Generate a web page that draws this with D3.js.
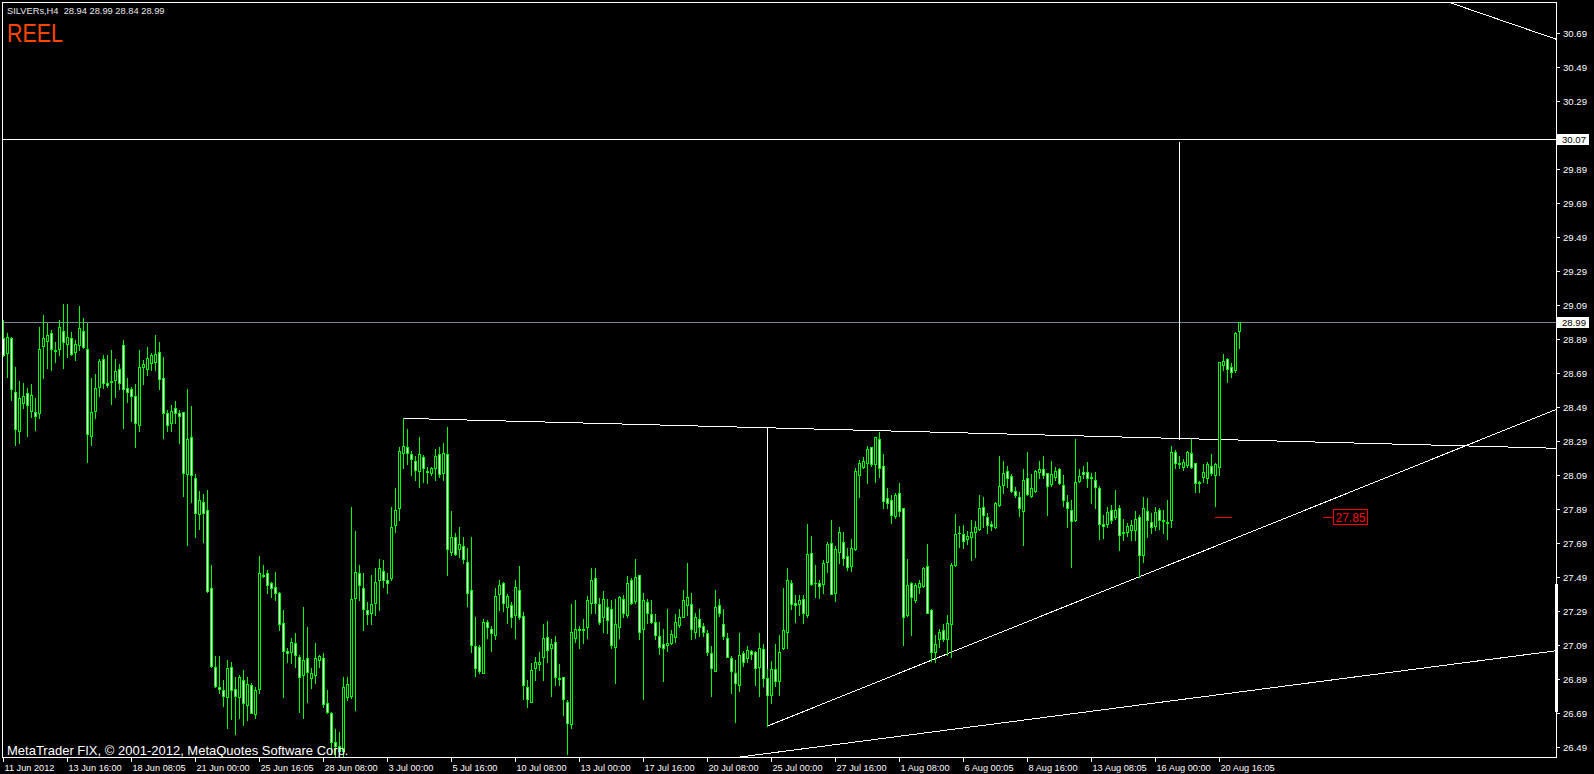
<!DOCTYPE html>
<html><head><meta charset="utf-8">
<script src="https://cdn.jsdelivr.net/npm/d3@7"></script>
<style>html,body{margin:0;padding:0;background:#000;overflow:hidden}</style>
</head><body>
<svg id="c" width="1594" height="774"></svg>
<script>
// ---------- DATA (SILVERs, H4) ----------
const opens = [
28.896,28.811,28.896,28.582,28.353,28.513,28.572,28.47,28.46,28.455,
28.853,28.882,28.925,28.827,28.831,28.941,28.86,28.896,28.813,28.856,
28.941,28.831,28.323,28.47,28.611,28.772,28.631,28.647,28.651,28.713,
28.855,28.602,28.596,28.556,28.386,28.729,28.713,28.753,28.758,28.813,
28.66,28.455,28.396,28.484,28.455,28.46,28.096,28.313,28.072,27.86,
27.933,27.886,27.425,26.965,26.847,26.827,26.784,26.965,26.831,26.784,
26.886,26.739,26.857,26.686,26.831,27.503,27.513,27.455,27.431,27.396,
27.223,27.058,27.053,27.102,27.023,26.915,27.013,26.896,26.915,27.004,
27.013,26.753,26.694,26.52,26.50,26.47,26.788,26.792,27.366,27.513,
27.425,27.298,27.278,27.341,27.474,27.529,27.474,27.484,27.798,27.896,
28.223,28.255,28.213,28.174,28.117,28.20,28.117,28.102,28.131,28.215,
28.102,28.213,27.641,27.729,27.655,27.674,27.582,27.415,27.086,27.082,
26.929,27.229,27.184,27.151,27.392,27.459,27.313,27.327,27.268,27.415,
27.262,26.843,26.758,26.955,26.98,27.023,27.141,27.072,27.111,26.90,
26.902,26.758,26.627,27.131,27.184,27.184,27.196,27.341,27.484,27.333,
27.255,27.313,27.302,27.082,27.20,27.36,27.268,27.474,27.353,27.504,
27.184,27.347,27.274,27.229,27.145,27.098,27.092,27.102,27.141,27.209,
27.259,27.327,27.333,27.17,27.243,27.204,27.16,27.043,26.941,27.327,
27.215,27.131,27.013,26.929,26.857,27.043,27.013,27.057,27.053,26.965,
27.07,26.90,26.80,26.95,26.88,27.072,27.17,27.459,27.341,27.333,
27.36,27.268,27.631,27.458,27.459,27.451,27.578,27.694,27.40,27.641,
27.70,27.615,27.558,27.655,28.092,28.141,28.16,28.255,28.157,28.302,
28.145,27.955,27.945,27.851,27.984,27.896,27.268,27.459,27.357,27.431,
27.439,27.557,27.298,27.05,27.125,27.18,27.125,27.215,27.562,27.753,
27.745,27.713,27.725,27.758,27.772,27.902,27.843,27.804,27.784,27.915,
28.033,28.117,28.086,28.00,27.96,27.882,28.072,27.968,28.00,28.111,
28.125,28.102,28.039,28.082,28.125,28.033,27.931,27.886,27.827,28.058,
28.111,28.111,28.082,28.062,28.013,27.803,27.803,27.886,27.843,27.896,
27.758,27.758,27.768,27.768,27.843,27.62,27.882,27.817,27.792,27.886,
27.827,27.817,27.827,28.229,28.16,28.141,28.15,28.223,28.16,28.052,
28.082,28.072,28.145,28.092,28.141,28.739,28.772,28.729,28.709,28.94];
const highs = [
29.004,28.925,28.905,28.725,28.647,28.631,28.602,28.627,28.543,28.964,
29.033,28.984,28.945,28.876,29.004,29.098,29.098,28.935,28.886,29.086,
29.013,28.984,28.66,28.686,28.772,28.798,28.798,28.827,28.772,28.745,
28.886,28.66,28.611,28.627,28.827,28.768,28.843,28.807,28.915,28.876,
28.784,28.474,28.504,28.527,28.474,28.464,28.598,28.498,28.098,28.0,
27.98,28.004,27.562,27.027,27.027,26.886,27.004,26.994,26.906,26.915,
26.945,26.906,26.866,26.843,27.615,27.562,27.533,27.464,27.523,27.406,
27.298,27.072,27.131,27.16,27.033,27.317,27.20,26.955,27.106,27.033,
27.043,26.827,26.70,26.60,26.58,26.906,26.906,27.906,27.762,27.562,
27.513,27.347,27.504,27.543,27.596,27.592,27.517,27.902,28.013,28.258,
28.425,28.36,28.235,28.204,28.313,28.209,28.141,28.141,28.243,28.258,
28.282,28.372,27.882,27.749,27.788,27.729,27.66,27.729,27.259,27.092,
27.245,27.239,27.204,27.425,27.474,27.464,27.392,27.347,27.474,27.557,
27.288,26.886,26.984,27.023,27.053,27.215,27.235,27.125,27.145,26.98,
26.902,26.768,27.333,27.357,27.204,27.243,27.38,27.543,27.543,27.366,
27.411,27.36,27.357,27.36,27.38,27.386,27.498,27.484,27.596,27.504,
27.40,27.36,27.357,27.274,27.229,27.184,27.302,27.18,27.274,27.302,
27.415,27.572,27.40,27.278,27.302,27.223,27.18,27.086,27.415,27.36,
27.302,27.16,27.027,27.004,27.16,27.058,27.086,27.062,27.058,27.164,
27.10,26.95,27.00,27.10,27.15,27.425,27.543,27.474,27.386,27.386,
27.386,27.804,27.733,27.562,27.474,27.592,27.70,27.827,27.674,27.788,
27.758,27.66,27.713,28.131,28.18,28.20,28.262,28.258,28.313,28.347,
28.215,28.013,27.974,27.984,28.043,27.896,27.596,27.464,27.459,27.474,
27.553,27.686,27.302,27.151,27.184,27.215,27.268,27.572,27.862,27.792,
27.798,27.764,27.827,27.823,27.974,27.96,27.866,27.823,27.935,28.204,
28.176,28.145,28.098,28.019,27.994,28.125,28.229,28.098,28.121,28.176,
28.204,28.106,28.176,28.141,28.131,28.092,27.974,27.945,28.301,28.125,
28.145,28.17,28.101,28.111,28.027,27.856,27.901,27.915,28.003,27.915,
27.831,27.807,27.827,27.882,27.856,27.964,27.954,27.866,27.901,27.896,
27.886,27.945,28.262,28.239,28.203,28.184,28.235,28.301,28.164,28.058,
28.156,28.17,28.215,28.16,28.758,28.803,28.778,28.752,28.935,28.99];
const lows = [
28.79,28.67,28.533,28.268,28.282,28.484,28.323,28.435,28.356,28.429,
28.66,28.719,28.709,28.758,28.798,28.723,28.788,28.796,28.768,28.827,
28.837,28.17,28.268,28.429,28.556,28.602,28.611,28.509,28.553,28.596,
28.37,28.523,28.411,28.258,28.353,28.627,28.68,28.709,28.709,28.598,
28.311,28.353,28.353,28.396,28.282,27.968,27.68,27.935,27.725,27.772,
27.70,27.406,26.965,26.843,26.811,26.733,26.602,26.655,26.568,26.661,
26.621,26.651,26.69,26.661,26.807,27.494,27.396,27.372,27.357,27.18,
26.788,26.994,26.984,26.965,26.70,26.661,26.758,26.837,26.866,26.965,
26.729,26.69,26.45,26.44,26.45,26.43,26.768,26.778,26.709,27.357,
27.18,27.215,27.215,27.268,27.298,27.435,27.396,27.474,27.758,27.827,
28.131,28.157,28.092,28.062,28.023,28.053,28.043,28.092,28.062,28.082,
28.062,27.504,27.621,27.621,27.611,27.572,27.321,27.053,26.909,26.929,
26.925,27.131,27.058,27.125,27.298,27.294,27.223,27.20,27.131,27.243,
26.772,26.725,26.758,26.886,26.945,26.886,26.994,26.792,26.857,26.857,
26.68,26.45,26.602,27.111,27.072,27.102,27.131,27.278,27.282,27.215,
27.17,27.165,27.072,26.87,27.131,27.255,27.255,27.333,27.337,27.125,
26.772,27.223,27.223,27.125,27.039,26.882,27.058,27.098,27.111,27.20,
27.255,27.268,27.125,27.131,27.145,27.145,27.033,26.792,26.941,27.262,
27.125,27.019,26.811,26.641,26.823,26.968,26.994,27.008,26.857,26.792,
26.85,26.615,26.75,26.85,26.80,27.066,27.072,27.302,27.229,27.268,
27.223,27.255,27.445,27.376,27.366,27.396,27.523,27.392,27.353,27.576,
27.562,27.533,27.529,27.651,27.96,28.131,28.043,28.145,28.053,28.078,
27.896,27.896,27.811,27.837,27.851,27.092,27.262,27.151,27.347,27.396,
27.435,27.278,27.00,26.99,27.082,27.117,27.03,27.02,27.557,27.67,
27.66,27.686,27.592,27.611,27.768,27.788,27.753,27.768,27.778,27.909,
27.984,28.019,27.994,27.964,27.851,27.68,27.974,27.964,27.994,28.072,
28.072,27.857,28.027,28.062,28.039,27.909,27.784,27.55,27.823,28.052,
28.072,28.023,27.929,27.896,27.713,27.719,27.784,27.807,27.831,27.65,
27.709,27.733,27.709,27.709,27.49,27.58,27.729,27.749,27.768,27.772,
27.749,27.713,27.784,28.131,28.131,28.121,28.141,28.131,27.994,27.994,
28.052,28.046,28.092,27.909,28.092,28.709,28.641,28.666,28.70,28.84];
const closes = [
28.80,28.902,28.596,28.36,28.543,28.556,28.504,28.56,28.44,28.831,
28.896,28.915,28.831,28.821,28.96,28.872,28.902,28.802,28.862,28.955,
28.843,28.331,28.46,28.602,28.762,28.631,28.621,28.641,28.704,28.631,
28.596,28.582,28.556,28.396,28.729,28.745,28.782,28.796,28.802,28.655,
28.458,28.386,28.47,28.455,28.441,28.102,28.302,28.092,27.87,27.945,
27.87,27.412,26.97,26.851,26.831,26.792,26.958,26.827,26.792,26.902,
26.753,26.862,26.694,26.827,27.513,27.498,27.445,27.425,27.40,27.215,
27.058,27.043,27.111,27.033,26.906,27.004,26.935,26.925,27.013,27.027,
26.745,26.70,26.52,26.50,26.47,26.843,26.86,27.36,27.523,27.445,
27.302,27.274,27.331,27.46,27.543,27.474,27.455,27.784,27.886,28.233,
28.262,28.223,28.184,28.121,28.213,28.131,28.111,28.131,28.204,28.098,
28.223,27.655,27.725,27.627,27.684,27.596,27.40,27.092,26.955,26.941,
27.229,27.196,27.16,27.382,27.445,27.341,27.382,27.259,27.431,27.255,
26.857,26.772,26.945,26.994,26.994,27.131,27.062,27.098,26.902,26.894,
26.772,26.631,27.17,27.184,27.18,27.18,27.357,27.474,27.341,27.229,
27.36,27.239,27.092,27.215,27.372,27.282,27.459,27.341,27.494,27.17,
27.357,27.282,27.229,27.151,27.082,27.072,27.106,27.157,27.229,27.255,
27.357,27.372,27.184,27.255,27.196,27.17,27.053,26.955,27.313,27.282,
27.145,27.023,26.941,26.87,27.033,26.994,27.062,27.039,26.955,27.072,
26.90,26.80,26.95,26.88,27.05,27.18,27.474,27.333,27.327,27.357,
27.282,27.627,27.451,27.455,27.439,27.572,27.686,27.392,27.655,27.758,
27.602,27.553,27.66,28.117,28.16,28.174,28.243,28.157,28.313,28.131,
27.941,27.929,27.857,27.974,27.882,27.259,27.445,27.372,27.445,27.459,
27.543,27.282,27.05,27.10,27.17,27.125,27.223,27.562,27.745,27.749,
27.706,27.733,27.758,27.788,27.896,27.857,27.798,27.792,27.925,28.027,
28.106,28.072,28.00,27.974,27.896,28.062,27.98,28.013,28.117,28.125,
28.092,28.027,28.098,28.117,28.043,27.945,27.896,27.823,28.052,28.086,
28.098,28.072,28.072,28.023,27.803,27.792,27.876,27.827,27.886,27.739,
27.749,27.792,27.797,27.831,27.62,27.896,27.827,27.784,27.876,27.827,
27.823,27.811,28.229,28.16,28.156,28.17,28.229,28.141,28.043,28.046,
28.111,28.156,28.101,28.156,28.758,28.762,28.713,28.70,28.929,28.99];

const priceTicks = [26.49,26.69,26.89,27.09,27.29,27.49,27.69,27.89,28.09,28.29,28.49,28.69,28.89,29.09,29.29,29.49,29.69,29.89,30.09,30.29,30.49,30.69];
const timeTickIndex = [0,16,32,48,64,80,96,112,128,144,160,176,192,208,224,240,256,272,288,304];
const timeTickLabels = ["11 Jun 2012","13 Jun 16:00","18 Jun 08:05","21 Jun 00:00","25 Jun 16:05","28 Jun 08:00","3 Jul 00:00","5 Jul 16:00","10 Jul 08:00","13 Jul 00:00","17 Jul 16:00","20 Jul 08:00","25 Jul 00:00","27 Jul 16:00","1 Aug 08:00","6 Aug 00:05","8 Aug 16:00","13 Aug 08:05","16 Aug 00:00","20 Aug 16:05"];

// objects drawn on the chart (bar index / price)
const trendLines = [
  {i1:100, p1:28.425, i2:388.2, p2:28.249},
  {i1:191, p1:26.615, i2:388.2, p2:28.478},
  {i1:183.85, p1:26.432, i2:388.2, p2:27.058},
  {i1:361.9, p1:30.868, i2:388.2, p2:30.655}
];
const vLines = [ {i:191, p1:28.369, p2:26.615}, {i:294, p1:30.05, p2:28.30} ];
const hLinePrice = 30.07;
const bidPrice = 28.99;
const markPrice = 27.845, markLabel = "27.85";
const markDash = [302.9, 306.9];
const markLabelIdx = [330.1, 332.6, 341.1];
const scrollBar = [27.451, 26.699];
const symbolText = "SILVERs,H4  28.94 28.99 28.84 28.99";
const titleText = "REEL";
const copyText = "MetaTrader FIX, \u00A9 2001-2012, MetaQuotes Software Corp.";

// ---------- DRAW ----------
const FONT = "'Liberation Sans', Arial, sans-serif";
const svg = d3.select('#c');
svg.append('rect').attr('width',1594).attr('height',774).attr('fill','#000');

const N = closes.length;
const x = d3.scaleLinear().domain([0, 309]).range([3, 1239]);
const y = d3.scaleLinear().domain([26.49, 30.69]).range([747.3, 33.3]);
const px = i => Math.round(x(i));
const py = p => Math.round(y(p));

const defs = svg.append('defs');
defs.append('clipPath').attr('id','plot').append('rect')
  .attr('x',3).attr('y',3).attr('width',1553).attr('height',754);

const plot = svg.append('g').attr('clip-path','url(#plot)');

// horizontal line & bid line
plot.append('line').attr('x1',2).attr('x2',1557)
  .attr('y1',py(hLinePrice)+0.5).attr('y2',py(hLinePrice)+0.5)
  .attr('stroke','#fff').attr('stroke-width',1).attr('shape-rendering','crispEdges');
plot.append('line').attr('x1',2).attr('x2',1557)
  .attr('y1',py(bidPrice)+0.5).attr('y2',py(bidPrice)+0.5)
  .attr('stroke','#778899').attr('stroke-width',1).attr('shape-rendering','crispEdges');

// trend lines
plot.selectAll('line.tl').data(trendLines).join('line').attr('class','tl')
  .attr('x1',d=>x(d.i1)+0.5).attr('y1',d=>y(d.p1))
  .attr('x2',d=>x(d.i2)+0.5).attr('y2',d=>y(d.p2))
  .attr('stroke','#fff').attr('stroke-width',1).attr('shape-rendering','crispEdges');
plot.selectAll('line.vl').data(vLines).join('line').attr('class','vl')
  .attr('x1',d=>px(d.i)+0.5).attr('x2',d=>px(d.i)+0.5)
  .attr('y1',d=>py(d.p1)).attr('y2',d=>py(d.p2))
  .attr('stroke','#fff').attr('stroke-width',1).attr('shape-rendering','crispEdges');

// candles
const idx = d3.range(N);
const cg = plot.append('g').attr('shape-rendering','crispEdges');
cg.selectAll('line.wick').data(idx).join('line').attr('class','wick')
  .attr('x1',i=>px(i)+0.5).attr('x2',i=>px(i)+0.5)
  .attr('y1',i=>py(highs[i])).attr('y2',i=>py(lows[i])+1)
  .attr('stroke','#00ff00').attr('stroke-width',1);
const bodies = idx.filter(i => py(Math.min(opens[i],closes[i])) - py(Math.max(opens[i],closes[i])) >= 1);
const dojis = idx.filter(i => py(Math.min(opens[i],closes[i])) - py(Math.max(opens[i],closes[i])) < 1);
cg.selectAll('rect.body').data(bodies).join('rect').attr('class','body')
  .attr('x',i=>px(i)-0.5).attr('width',2)
  .attr('y',i=>py(Math.max(opens[i],closes[i]))+0.5)
  .attr('height',i=>py(Math.min(opens[i],closes[i]))-py(Math.max(opens[i],closes[i])))
  .attr('fill',i=>closes[i]>=opens[i]?'#000':'#fff')
  .attr('stroke','#00ff00').attr('stroke-width',1);
cg.selectAll('line.doji').data(dojis).join('line').attr('class','doji')
  .attr('x1',i=>px(i)-1).attr('x2',i=>px(i)+2)
  .attr('y1',i=>py(closes[i])+0.5).attr('y2',i=>py(closes[i])+0.5)
  .attr('stroke','#00ff00').attr('stroke-width',1);

// red price mark
plot.append('line').attr('x1',px(markDash[0])).attr('x2',px(markDash[1])+1)
  .attr('y1',py(markPrice)+0.5).attr('y2',py(markPrice)+0.5)
  .attr('stroke','#ff0000').attr('stroke-width',1).attr('shape-rendering','crispEdges');
plot.append('line').attr('x1',px(markLabelIdx[0])).attr('x2',px(markLabelIdx[1]))
  .attr('y1',py(markPrice)+0.5).attr('y2',py(markPrice)+0.5)
  .attr('stroke','#ff0000').attr('stroke-width',1).attr('shape-rendering','crispEdges');
plot.append('rect').attr('x',px(markLabelIdx[1])+0.5).attr('y',py(markPrice)-7.5)
  .attr('width',px(markLabelIdx[2])-px(markLabelIdx[1])).attr('height',15)
  .attr('fill','#000').attr('stroke','#ff0000').attr('stroke-width',1).attr('shape-rendering','crispEdges');
plot.append('text').attr('x',px(markLabelIdx[1])+2.5).attr('y',py(markPrice)+5)
  .attr('fill','#ff0000').attr('font-family',FONT).attr('font-size',13)
  .attr('textLength',30).attr('lengthAdjust','spacingAndGlyphs').text(markLabel);

// frame
svg.append('rect').attr('x',2.5).attr('y',2.5).attr('width',1554).attr('height',755)
  .attr('fill','none').attr('stroke','#fff').attr('stroke-width',1).attr('shape-rendering','crispEdges');
svg.append('rect').attr('x',1555).attr('y',py(scrollBar[0])).attr('width',3)
  .attr('height',py(scrollBar[1])-py(scrollBar[0])).attr('fill','#fff');

// price axis
const boxPrices = [hLinePrice, bidPrice];
const yAxis = d3.axisRight(y).tickValues(priceTicks)
  .tickFormat(d => boxPrices.some(b => Math.abs(y(b) - y(d)) < 8) ? "" : d3.format('.2f')(d))
  .tickSize(3).tickPadding(3);
const ya = svg.append('g').attr('transform','translate(1557,0)').call(yAxis);
ya.select('.domain').remove();
ya.selectAll('line').attr('stroke','#fff').attr('shape-rendering','crispEdges');
ya.selectAll('text').attr('fill','#fff').attr('font-family',FONT).attr('font-size',9.6);

// price boxes
boxPrices.forEach(p => {
  svg.append('rect').attr('x',1557).attr('y',py(p)-5).attr('width',32).attr('height',11).attr('fill','#fff');
  svg.append('text').attr('x',1562).attr('y',py(p)+0.5).attr('dy','0.35em')
    .attr('fill','#000').attr('font-family',FONT).attr('font-size',9.6).text(d3.format('.2f')(p));
});

// time axis
const xAxis = d3.axisBottom(x).tickValues(timeTickIndex)
  .tickFormat((d,k)=>timeTickLabels[k]).tickSize(4).tickPadding(2);
const xa = svg.append('g').attr('transform','translate(0,758)').call(xAxis);
xa.select('.domain').remove();
xa.selectAll('line').attr('stroke','#fff').attr('shape-rendering','crispEdges');
xa.selectAll('text').attr('fill','#fff').attr('font-family',FONT).attr('font-size',9.2)
  .attr('text-anchor','start').attr('dx',1);

// texts
svg.append('text').attr('x',7).attr('y',14).attr('fill','#e8e8e8')
  .attr('font-family',FONT).attr('font-size',9.3).attr('xml:space','preserve').text(symbolText);
svg.append('text').attr('x',7).attr('y',41.7).attr('fill','#ff4500')
  .attr('font-family',FONT).attr('font-size',25.6)
  .attr('textLength',56).attr('lengthAdjust','spacingAndGlyphs').text(titleText);
svg.append('text').attr('x',7).attr('y',755).attr('fill','#fff')
  .attr('font-family',FONT).attr('font-size',13).text(copyText);
</script>
</body></html>
